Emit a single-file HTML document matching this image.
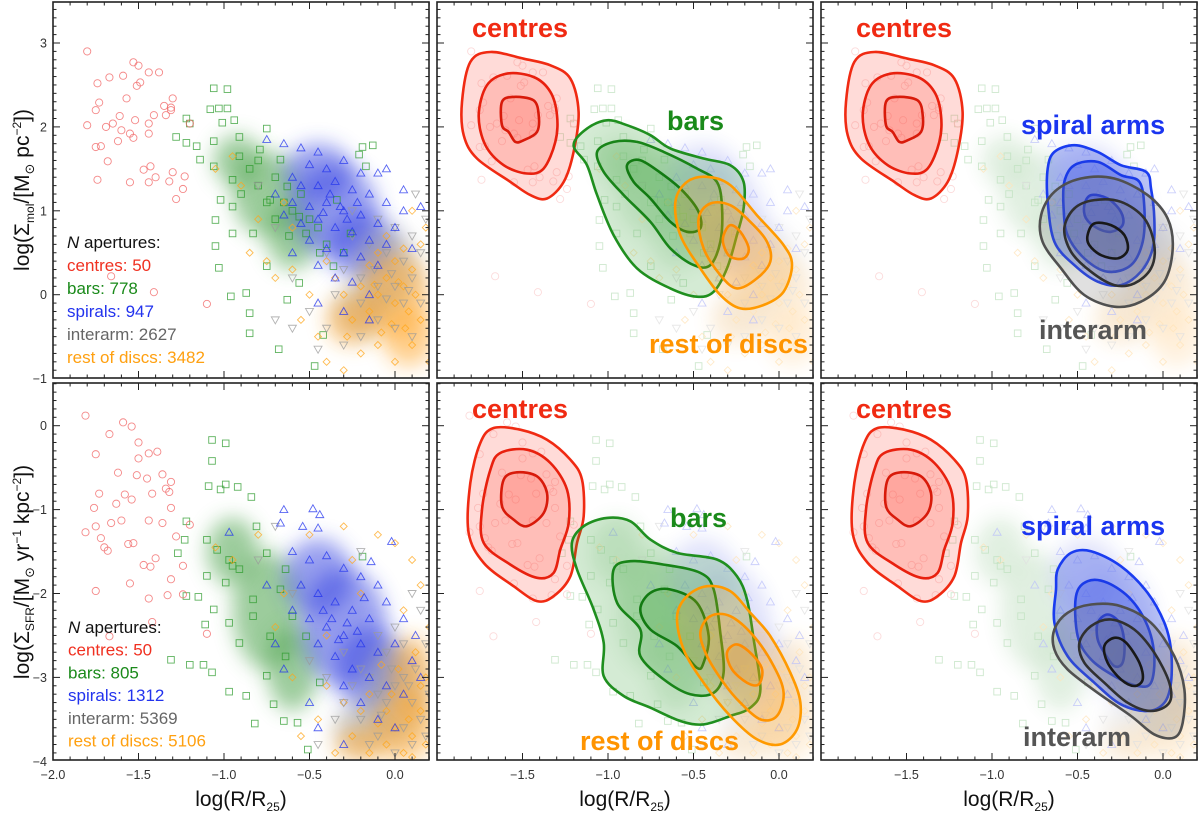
<!DOCTYPE html>
<html><head><meta charset="utf-8">
<style>
html,body{margin:0;padding:0;background:#fff;}
svg{display:block;font-family:"Liberation Sans",sans-serif;}
</style></head>
<body>
<svg id="chart" width="1200" height="819" viewBox="0 0 1200 819" xmlns="http://www.w3.org/2000/svg">
<defs>
<filter id="blur" x="-50%" y="-50%" width="200%" height="200%"><feGaussianBlur stdDeviation="10"/></filter>
<clipPath id="c0"><rect x="53" y="2" width="376" height="376"/></clipPath>
<clipPath id="c1"><rect x="437" y="2" width="376" height="376"/></clipPath>
<clipPath id="c2"><rect x="821" y="2" width="376" height="376"/></clipPath>
<clipPath id="c3"><rect x="53" y="383" width="376" height="377"/></clipPath>
<clipPath id="c4"><rect x="437" y="383" width="376" height="377"/></clipPath>
<clipPath id="c5"><rect x="821" y="383" width="376" height="377"/></clipPath>
</defs>
<g id="root"></g>
</svg>
<script>
// ---------- data: scatter (top row: molecular gas) ----------
const topCentresX=[-1.80,-1.74,-1.67,-1.59,-1.53,-1.50,-1.44,-1.38,-1.73,-1.75,-1.57,-1.80,-1.69,-1.65,-1.61,-1.60,-1.55,-1.53,-1.52,-1.49,-1.51,-1.44,-1.44,-1.41,-1.35,-1.34,-1.31,-1.30,-1.31,-1.20,-1.62,-1.75,-1.72,-1.68,-1.74,-1.55,-1.47,-1.43,-1.40,-1.44,-1.32,-1.30,-1.23,-1.24,-1.28,-1.66,-1.41,-1.10];
const topCentresY=[2.90,2.52,2.59,2.61,2.77,2.73,2.65,2.65,2.29,2.20,2.34,2.02,2.00,2.04,2.13,1.96,1.92,1.87,2.08,2.53,2.49,2.04,1.92,2.14,2.25,2.14,2.20,2.34,2.23,2.04,1.83,1.76,1.77,1.59,1.37,1.34,1.49,1.53,1.40,1.34,1.35,1.46,1.41,1.26,1.14,0.22,0.03,-0.11];
const topBarsX=[-1.06,-0.98,-1.08,-1.03,-0.98,-1.22,-1.20,-0.94,-1.01,-1.28,-1.22,-1.16,-1.06,-0.91,-0.75,-0.13,-0.19,-0.21,-1.14,-1.06,-0.95,-1.02,-1.05,-0.95,-0.83,-1.05,-1.03,-0.96,-0.87,-0.85,-0.85,-0.68,-0.47,-0.42,-0.73,-0.63,-0.56,-0.52,-0.44,-0.36,-0.26,-0.95,-0.75,-0.63,-0.56,-0.34,-0.17,-0.79,-0.67,-0.91,-0.85,-0.80,-0.70,-0.65,-0.60,-0.55,-0.50,-0.45,-0.75,-0.70,-0.62,-0.40,-0.30,-0.80,-0.90];
const topBarsY=[2.46,2.45,2.21,2.22,2.22,2.10,2.04,2.08,2.05,1.88,1.81,1.77,1.83,1.88,1.98,1.78,1.76,1.67,1.61,1.53,1.37,1.13,0.89,1.05,0.73,0.58,0.32,-0.02,0.02,-0.22,-0.46,-0.65,-0.85,-0.48,1.13,1.29,0.93,0.73,0.50,0.34,0.73,0.73,0.34,-0.06,0.14,1.13,1.53,1.73,1.61,1.65,1.50,1.30,1.40,1.10,1.00,1.20,0.90,0.80,1.10,0.90,0.70,0.60,0.50,1.60,1.20];
const topSpiralsX=[-0.75,-0.65,-0.55,-0.45,-0.5,-0.4,-0.3,-0.2,-0.1,-0.05,-0.6,-0.55,-0.45,-0.35,-0.25,-0.15,-0.05,0.05,-0.6,-0.5,-0.4,-0.3,-0.2,-0.1,0.0,-0.55,-0.45,-0.35,-0.25,-0.15,-0.05,0.1,-0.5,-0.4,-0.3,-0.2,-0.1,-0.45,-0.35,-0.25,-0.15,-0.3,-0.15,-0.45,-0.6,-0.7,-0.65,0.05,0.15,-0.38,-0.32,-0.28,-0.42,-0.22];
const topSpiralsY=[1.85,1.8,1.75,1.7,1.55,1.5,1.6,1.45,1.45,1.5,1.4,1.3,1.3,1.35,1.25,1.2,1.1,1.0,1.1,1.05,1.1,1.0,0.95,0.85,0.8,0.85,0.9,0.8,0.75,0.65,0.6,0.55,0.65,0.55,0.5,0.45,0.35,0.35,0.2,0.15,0.0,-0.2,-0.3,-0.1,0.5,1.2,0.95,1.25,1.05,1.2,1.05,0.9,0.98,1.1];
const topInterX=[-0.8,-0.7,-0.6,-0.5,-0.4,-0.3,-0.2,-0.1,0.0,0.1,0.15,0.1,0.0,-0.1,-0.2,-0.3,-0.4,0.05,-0.05,-0.15,-0.25,0.1,0.0,-0.1,0.15,0.05,-0.05,-0.2,-0.35,-0.12,-0.02,0.08,-0.45,-0.6,-0.7,0.18,0.12,-0.25];
const topInterY=[1.3,0.8,0.2,-0.2,-0.4,-0.6,-0.5,-0.3,-0.4,-0.5,-0.1,0.2,0.1,0.1,0.2,0.3,0.5,0.4,0.5,0.6,0.7,0.7,0.8,0.9,0.5,-0.1,-0.05,-0.1,0.0,0.3,0.25,0.05,-0.65,-0.4,-0.3,0.9,1.2,1.0];
const topDiscsX=[-0.95,-1.05,-0.9,-0.8,-0.85,-0.75,-0.7,-0.6,-0.55,-0.5,-0.45,-0.4,-0.3,-0.2,-0.1,0.0,0.1,0.15,0.12,0.1,0.05,0.0,-0.05,-0.1,-0.15,-0.2,-0.25,-0.3,-0.35,0.0,0.05,0.15,0.18,-0.1,-0.15,-0.02,0.08,-0.08,-0.28,0.2,-0.05,0.1,-0.4,-0.6,-0.65,0.02,-0.12,0.06];
const topDiscsY=[1.65,1.5,1.3,0.9,0.5,0.4,0.2,0.3,-0.3,0.0,-0.5,-0.8,-0.9,-0.7,-0.6,-0.8,-0.6,-0.3,0.0,0.3,0.1,-0.1,0.2,0.0,-0.2,0.1,-0.3,0.0,0.2,0.4,0.55,0.6,0.8,0.5,0.35,-0.35,-0.2,-0.45,-0.5,-0.8,0.7,1.0,0.4,0.8,1.1,0.15,0.12,-0.4];
// ---------- data: scatter (bottom row: SFR) ----------
const botCentresX=[-1.81,-1.59,-1.54,-1.67,-1.50,-1.75,-1.50,-1.44,-1.39,-1.62,-1.51,-1.45,-1.36,-1.31,-1.34,-1.32,-1.73,-1.58,-1.54,-1.42,-1.76,-1.63,-1.31,-1.66,-1.60,-1.44,-1.36,-1.81,-1.75,-1.72,-1.70,-1.68,-1.56,-1.53,-1.28,-1.20,-1.40,-1.47,-1.43,-1.24,-1.31,-1.55,-1.75,-1.33,-1.24,-1.44,-1.42,-1.67,-1.10];
const botCentresY=[0.12,0.04,-0.01,-0.10,-0.20,-0.34,-0.39,-0.33,-0.31,-0.56,-0.59,-0.63,-0.58,-0.67,-0.75,-0.79,-0.81,-0.82,-0.88,-0.81,-0.98,-0.93,-0.98,-1.16,-1.13,-1.13,-1.16,-1.27,-1.20,-1.34,-1.45,-1.49,-1.41,-1.40,-1.32,-1.18,-1.58,-1.66,-1.68,-1.67,-1.83,-1.88,-1.97,-2.02,-2.01,-2.06,-2.34,-2.51,-2.48];
const botBarsX=[-1.07,-0.99,-1.07,-1.09,-0.99,-0.92,-0.84,-1.02,-1.22,-1.23,-1.27,-1.10,-1.04,-0.97,-0.91,-1.10,-0.99,-0.95,-0.81,-0.75,-1.22,-1.15,-1.06,-0.97,-1.11,-1.31,-1.20,-1.12,-1.07,-0.97,-0.87,-0.71,-0.82,-0.65,-0.57,-0.51,-0.83,-0.73,-0.64,-0.75,-0.91,-0.83,-0.67,-0.60,-0.52,-0.19,-0.44,-0.64];
const botBarsY=[-0.17,-0.21,-0.42,-0.72,-0.70,-0.73,-0.85,-0.76,-1.14,-1.36,-1.52,-1.36,-1.48,-1.60,-1.71,-1.79,-1.87,-1.67,-1.20,-1.52,-2.03,-2.04,-2.19,-2.35,-2.37,-2.79,-2.85,-2.85,-2.94,-3.17,-3.22,-3.32,-3.55,-3.52,-3.54,-3.86,-2.27,-2.51,-2.75,-2.98,-2.59,-2.07,-1.95,-2.27,-2.51,-1.56,-3.06,-1.71];
const botSpiralsX=[-0.65,-0.48,-0.44,-0.97,-0.67,-0.54,-0.45,-0.02,-0.14,-0.6,-0.5,-0.4,-0.3,-0.2,-0.1,-0.55,-0.45,-0.35,-0.25,-0.15,-0.05,0.05,-0.6,-0.5,-0.4,-0.3,-0.2,-0.1,0.0,0.1,-0.45,-0.35,-0.25,-0.15,-0.05,0.05,0.15,-0.3,-0.2,-0.1,0.0,-0.7,-0.75,-0.65,-0.5,-0.37,-0.28,-0.33,-0.22,-0.42,-0.18,0.12,-0.45,-0.3];
const botSpiralsY=[-1.00,-0.99,-1.06,-1.27,-1.16,-1.20,-1.22,-1.38,-1.62,-1.5,-1.6,-1.55,-1.7,-1.8,-1.9,-1.9,-2.0,-2.1,-2.2,-2.3,-2.1,-2.3,-2.2,-2.3,-2.4,-2.5,-2.6,-2.7,-2.6,-2.8,-2.6,-2.75,-2.9,-3.0,-3.1,-3.2,-3.0,-3.1,-3.3,-3.5,-3.6,-2.6,-1.9,-2.9,-3.3,-2.3,-2.35,-2.55,-2.45,-2.2,-2.05,-2.5,-3.6,-3.8];
const botInterX=[-0.7,-0.8,-0.6,-0.5,-0.4,-0.3,-0.2,-0.1,0.0,0.1,0.15,0.2,0.1,0.05,0.0,-0.05,-0.1,-0.15,-0.2,-0.25,0.12,0.18,0.05,-0.05,-0.1,0.0,0.15,-0.3,-0.35,-0.45,0.05,-0.08,0.08,-0.02,0.18,-0.15,0.1,-0.2];
const botInterY=[-1.2,-1.6,-2.0,-2.8,-3.0,-3.3,-3.5,-3.7,-3.9,-3.8,-3.5,-3.2,-3.3,-3.0,-3.1,-3.3,-3.2,-3.0,-2.9,-3.1,-2.9,-2.6,-2.6,-2.7,-2.5,-2.4,-2.2,-2.7,-3.5,-3.8,-3.6,-3.45,-3.1,-2.9,-3.7,-3.8,-2.0,-1.5];
const botDiscsX=[-1.05,-0.95,-0.8,-0.5,-0.3,-0.1,0.0,0.15,0.1,-0.25,-0.6,-0.55,-0.45,-0.35,-0.25,-0.15,-0.05,0.05,0.1,0.15,0.18,0.12,0.2,0.05,-0.05,0.0,-0.1,-0.2,0.08,-0.02,-0.15,0.15,-0.3,-0.4,0.02,-0.08,-0.65,-0.7,0.1,0.18,-0.4,-0.2];
const botDiscsY=[-1.45,-1.6,-1.3,-1.3,-1.2,-1.3,-1.4,-1.9,-1.6,-1.6,-3.0,-3.7,-3.5,-3.9,-3.7,-3.9,-3.8,-3.9,-3.7,-3.4,-3.0,-2.7,-2.4,-2.2,-3.4,-3.6,-3.55,-3.4,-3.5,-3.2,-3.2,-3.1,-3.3,-3.1,-2.9,-2.85,-2.0,-2.4,-3.95,-3.8,-2.5,-2.0];
// density clouds: class index (0 bars,1 spirals,2 interarm,3 discs), centre x, centre y, sigma x, sigma y
const topCloudC=[0,0,0,1,1,1,2,2,3,3,3];
const topCloudX=[-0.75,-0.92,-0.6,-0.35,-0.2,-0.45,-0.05,-0.2,0.0,0.08,-0.25];
const topCloudY=[1.2,1.6,0.7,1.0,0.6,1.45,0.3,-0.2,0.0,-0.5,-0.3];
const topCloudSX=[0.2,0.14,0.15,0.25,0.2,0.2,0.18,0.15,0.2,0.15,0.15];
const topCloudSY=[0.5,0.3,0.4,0.55,0.4,0.35,0.5,0.3,0.5,0.35,0.3];
const botCloudC=[0,0,0,1,1,1,2,2,3,3,3];
const botCloudX=[-0.75,-0.95,-0.6,-0.3,-0.15,-0.45,0.0,-0.2,0.05,0.1,-0.2];
const botCloudY=[-2.2,-1.5,-2.9,-2.4,-2.9,-1.8,-3.2,-3.6,-3.6,-3.0,-3.8];
const botCloudSX=[0.2,0.15,0.15,0.25,0.2,0.2,0.18,0.15,0.18,0.12,0.15];
const botCloudSY=[0.7,0.4,0.5,0.7,0.5,0.45,0.6,0.3,0.4,0.5,0.2];
// ---------- data: contours (top row) ----------
const tRed1X=[-1.854,-1.805,-1.688,-1.493,-1.337,-1.220,-1.172,-1.201,-1.259,-1.357,-1.454,-1.571,-1.766,-1.844];
const tRed1Y=[2.298,2.774,2.893,2.813,2.734,2.575,2.179,1.702,1.345,1.147,1.187,1.345,1.623,1.901];
const tRed2X=[-1.756,-1.708,-1.591,-1.435,-1.337,-1.298,-1.308,-1.376,-1.474,-1.610,-1.717];
const tRed2Y=[2.139,2.496,2.635,2.595,2.417,2.139,1.821,1.504,1.444,1.544,1.782];
const tRed3X=[-1.620,-1.552,-1.435,-1.405,-1.415,-1.493,-1.542,-1.581,-1.620];
const tRed3Y=[2.298,2.357,2.317,2.139,1.940,1.841,1.821,1.940,2.020];
const tGrn1X=[-1.201,-1.123,-1.006,-0.889,-0.752,-0.635,-0.441,-0.285,-0.207,-0.207,-0.246,-0.304,-0.382,-0.480,-0.635,-0.830,-0.967,-1.064,-1.123];
const tGrn1Y=[1.782,1.980,2.079,2.020,1.901,1.742,1.623,1.544,1.345,1.028,0.710,0.313,0.036,-0.024,0.075,0.313,0.710,1.187,1.544];
const tGrn2X=[-1.064,-0.967,-0.830,-0.674,-0.480,-0.363,-0.333,-0.343,-0.402,-0.499,-0.635,-0.752,-0.908,-1.025];
const tGrn2Y=[1.702,1.821,1.821,1.702,1.504,1.345,1.028,0.631,0.353,0.353,0.552,0.869,1.187,1.464];
const tGrn3X=[-0.889,-0.811,-0.674,-0.558,-0.470,-0.460,-0.538,-0.635,-0.752,-0.850];
const tGrn3Y=[1.544,1.603,1.425,1.226,0.988,0.790,0.750,0.869,1.147,1.345];
const tOra1X=[-0.606,-0.538,-0.421,-0.285,-0.129,0.027,0.076,0.027,-0.090,-0.226,-0.343,-0.460,-0.577];
const tOra1Y=[1.107,1.345,1.405,1.306,0.948,0.591,0.353,0.036,-0.123,-0.163,-0.004,0.313,0.710];
const tOra2X=[-0.470,-0.402,-0.285,-0.168,-0.070,-0.051,-0.129,-0.246,-0.343,-0.441];
const tOra2Y=[0.909,1.087,1.067,0.869,0.631,0.393,0.194,0.075,0.234,0.552];
const tOra3X=[-0.324,-0.285,-0.226,-0.177,-0.207,-0.285,-0.324];
const tOra3Y=[0.710,0.829,0.750,0.552,0.433,0.453,0.591];
const tBlu1X=[-0.674,-0.635,-0.519,-0.382,-0.246,-0.099,-0.070,-0.051,-0.060,-0.129,-0.246,-0.382,-0.519,-0.635,-0.674];
const tBlu1Y=[1.504,1.702,1.782,1.702,1.544,1.464,1.266,0.909,0.552,0.274,0.115,0.155,0.353,0.631,1.107];
const tBlu2X=[-0.577,-0.519,-0.382,-0.246,-0.138,-0.109,-0.119,-0.187,-0.324,-0.460,-0.558,-0.581];
const tBlu2Y=[1.345,1.544,1.583,1.425,1.345,1.028,0.631,0.353,0.274,0.433,0.710,1.028];
const tBlu3X=[-0.460,-0.421,-0.324,-0.246,-0.236,-0.304,-0.382,-0.450];
const tBlu3Y=[1.067,1.187,1.147,0.988,0.829,0.750,0.790,0.909];
const tGry1X=[-0.713,-0.635,-0.480,-0.285,-0.090,0.027,0.057,0.008,-0.129,-0.285,-0.460,-0.596,-0.704];
const tGry1Y=[0.948,1.226,1.385,1.385,1.187,0.909,0.552,0.155,-0.083,-0.143,-0.004,0.313,0.631];
const tGry2X=[-0.577,-0.519,-0.402,-0.246,-0.109,-0.051,-0.070,-0.168,-0.285,-0.421,-0.538];
const tGry2Y=[0.790,1.028,1.127,1.107,0.909,0.591,0.313,0.135,0.115,0.274,0.512];
const tGry3X=[-0.441,-0.402,-0.304,-0.226,-0.207,-0.265,-0.363,-0.431];
const tGry3Y=[0.710,0.849,0.829,0.710,0.532,0.433,0.472,0.591];
// ---------- data: contours (bottom row) ----------
const bRed1X=[-1.805,-1.747,-1.669,-1.513,-1.357,-1.220,-1.152,-1.142,-1.181,-1.220,-1.318,-1.415,-1.552,-1.727,-1.815];
const bRed1Y=[-0.683,-0.206,-0.028,-0.048,-0.167,-0.405,-0.643,-1.079,-1.397,-1.794,-2.032,-2.091,-1.913,-1.635,-1.278];
const bRed2X=[-1.688,-1.630,-1.474,-1.337,-1.240,-1.230,-1.279,-1.318,-1.415,-1.571,-1.727,-1.737];
const bRed2Y=[-0.524,-0.325,-0.286,-0.444,-0.762,-1.159,-1.476,-1.754,-1.813,-1.655,-1.397,-1.000];
const bRed3X=[-1.610,-1.532,-1.415,-1.357,-1.376,-1.474,-1.552,-1.620];
const bRed3Y=[-0.643,-0.556,-0.603,-0.802,-1.040,-1.198,-1.119,-0.960];
const bGrn1X=[-1.211,-1.142,-1.006,-0.869,-0.752,-0.596,-0.363,-0.246,-0.187,-0.148,-0.109,-0.168,-0.285,-0.441,-0.577,-0.752,-0.908,-1.025,-1.025,-1.084,-1.181];
const bGrn1Y=[-1.397,-1.198,-1.099,-1.139,-1.357,-1.516,-1.595,-1.794,-2.071,-2.548,-3.143,-3.361,-3.460,-3.560,-3.520,-3.361,-3.222,-2.984,-2.587,-2.190,-1.714];
const bGrn2X=[-0.967,-0.869,-0.674,-0.460,-0.382,-0.343,-0.324,-0.382,-0.519,-0.674,-0.811,-0.811,-0.947];
const bGrn2Y=[-1.714,-1.615,-1.655,-1.754,-1.952,-2.468,-2.944,-3.183,-3.202,-3.024,-2.746,-2.429,-2.111];
const bGrn3X=[-0.811,-0.752,-0.635,-0.480,-0.411,-0.441,-0.480,-0.596,-0.752];
const bGrn3Y=[-2.190,-1.992,-1.952,-2.111,-2.508,-2.825,-2.885,-2.627,-2.429];
const bOra1X=[-0.596,-0.538,-0.421,-0.285,-0.168,-0.051,0.066,0.125,0.105,0.008,-0.129,-0.285,-0.441,-0.558];
const bOra1Y=[-2.270,-2.032,-1.913,-1.972,-2.230,-2.508,-2.944,-3.302,-3.619,-3.798,-3.738,-3.460,-3.063,-2.667];
const bOra2X=[-0.460,-0.402,-0.285,-0.148,-0.031,0.027,-0.012,-0.109,-0.226,-0.324,-0.421];
const bOra2Y=[-2.468,-2.270,-2.270,-2.508,-2.865,-3.183,-3.460,-3.500,-3.302,-3.063,-2.746];
const bOra3X=[-0.304,-0.246,-0.158,-0.099,-0.119,-0.187,-0.275];
const bOra3Y=[-2.706,-2.607,-2.726,-2.905,-3.083,-3.063,-2.905];
const bBlu1X=[-0.616,-0.538,-0.421,-0.246,-0.090,0.008,0.047,0.047,0.008,-0.090,-0.246,-0.402,-0.558,-0.635,-0.626];
const bBlu1Y=[-1.714,-1.516,-1.496,-1.675,-1.992,-2.349,-2.667,-3.063,-3.302,-3.401,-3.321,-3.063,-2.746,-2.349,-1.952];
const bBlu2X=[-0.509,-0.441,-0.324,-0.187,-0.090,-0.051,-0.070,-0.148,-0.285,-0.421,-0.499];
const bBlu2Y=[-2.032,-1.853,-1.873,-2.071,-2.389,-2.746,-3.063,-3.103,-2.984,-2.786,-2.508];
const bBlu3X=[-0.382,-0.324,-0.255,-0.226,-0.236,-0.285,-0.343,-0.382];
const bBlu3Y=[-2.349,-2.250,-2.349,-2.587,-2.825,-2.865,-2.706,-2.548];
const bGry1X=[-0.635,-0.558,-0.421,-0.246,-0.070,0.066,0.125,0.115,0.066,-0.051,-0.187,-0.382,-0.558,-0.635];
const bGry1Y=[-2.429,-2.230,-2.131,-2.151,-2.349,-2.746,-3.143,-3.540,-3.718,-3.679,-3.460,-3.183,-2.905,-2.667];
const bGry2X=[-0.489,-0.421,-0.304,-0.168,-0.051,0.037,0.037,-0.070,-0.207,-0.343,-0.460];
const bGry2Y=[-2.587,-2.389,-2.310,-2.429,-2.706,-3.063,-3.302,-3.401,-3.302,-3.063,-2.825];
const bGry3X=[-0.343,-0.285,-0.216,-0.138,-0.119,-0.168,-0.246,-0.324];
const bGry3Y=[-2.627,-2.528,-2.587,-2.825,-3.024,-3.103,-3.024,-2.825];
// ticks
const xTickVals=[-2.0,-1.5,-1.0,-0.5,0.0];
const xTickLabels=["\u22122.0","\u22121.5","\u22121.0","\u22120.5","0.0"];
const topYTickVals=[3,2,1,0,-1];
const topYTickLabels=["3","2","1","0","\u22121"];
const botYTickVals=[0,-1,-2,-3,-4];
const botYTickLabels=["0","\u22121","\u22122","\u22123","\u22124"];

// ---------- rendering ----------
const NS="http://www.w3.org/2000/svg";
const root=document.getElementById('root');
const colX=[53,437,821], PW=376;
const rows=[{top:2,bot:378,y0:43,v0:3},{top:383,bot:760,y0:425.7,v0:0}];
const SY=83.9, SX=171;
function xs(c,v){return colX[c]+(v+2)*SX;}
function ys(r,v){return rows[r].y0+(rows[r].v0-v)*SY;}
function mk(tag,attrs,parent){const e=document.createElementNS(NS,tag);for(const k in attrs)e.setAttribute(k,attrs[k]);(parent||root).appendChild(e);return e;}
function smooth(pts){
  const n=pts.length;let d=`M${pts[0][0].toFixed(1)},${pts[0][1].toFixed(1)}`;
  for(let i=0;i<n;i++){const p0=pts[(i-1+n)%n],p1=pts[i],p2=pts[(i+1)%n],p3=pts[(i+2)%n];
    const c1=[p1[0]+(p2[0]-p0[0])/6,p1[1]+(p2[1]-p0[1])/6],c2=[p2[0]-(p3[0]-p1[0])/6,p2[1]-(p3[1]-p1[1])/6];
    d+=`C${c1[0].toFixed(1)},${c1[1].toFixed(1)} ${c2[0].toFixed(1)},${c2[1].toFixed(1)} ${p2[0].toFixed(1)},${p2[1].toFixed(1)}`;}
  return d+'Z';
}
const classes=[
 {key:'bars',shape:'square',col:'#2a9a2a'},
 {key:'discs',shape:'diamond',col:'#ffa51a'},
 {key:'inter',shape:'down',col:'#9a9a9a'},
 {key:'spirals',shape:'up',col:'#2233ee'},
 {key:'centres',shape:'circle',col:'#f06060'}];
const scatterData=[
 {bars:[topBarsX,topBarsY],discs:[topDiscsX,topDiscsY],inter:[topInterX,topInterY],spirals:[topSpiralsX,topSpiralsY],centres:[topCentresX,topCentresY]},
 {bars:[botBarsX,botBarsY],discs:[botDiscsX,botDiscsY],inter:[botInterX,botInterY],spirals:[botSpiralsX,botSpiralsY],centres:[botCentresX,botCentresY]}];
const cloudData=[[topCloudC,topCloudX,topCloudY,topCloudSX,topCloudSY],[botCloudC,botCloudX,botCloudY,botCloudSX,botCloudSY]];
const cloudCols=['#3a9a3a','#3040e0','#9a9a9a','#ffa01a'];

function drawScatter(c,r,fade){
  const g=mk('g',{'clip-path':`url(#c${r*3+c})`,opacity:fade});
  
  
  const cd=cloudData[r];
  for(let i=0;i<cd[1].length;i++){
    const e=mk('ellipse',{cx:xs(c,cd[1][i]),cy:ys(r,cd[2][i]),rx:cd[3][i]*SX,ry:cd[4][i]*SY,fill:cloudCols[cd[0][i]],opacity:0.5,filter:'url(#blur)'},g);
    
    
  }
  classes.forEach(cl=>{
    const [X,Y]=scatterData[r][cl.key];
    for(let i=0;i<X.length;i++){
      const px=xs(c,X[i]),py=ys(r,Y[i]);let e;
      const st={fill:'none',stroke:cl.col,'stroke-width':0.9,opacity:cl.key==='centres'?0.75:0.75};
      if(cl.shape==='circle')e=mk('circle',Object.assign({cx:px,cy:py,r:3.6},st),g);
      else if(cl.shape==='square')e=mk('rect',Object.assign({x:px-3.3,y:py-3.3,width:6.6,height:6.6},st),g);
      else if(cl.shape==='diamond')e=mk('path',Object.assign({d:`M${px},${py-3.5}L${px+3.5},${py}L${px},${py+3.5}L${px-3.5},${py}Z`},st),g);
      else if(cl.shape==='up')e=mk('path',Object.assign({d:`M${px},${py-4}L${px+4},${py+3}L${px-4},${py+3}Z`},st),g);
      else e=mk('path',Object.assign({d:`M${px},${py+4}L${px+4},${py-3}L${px-4},${py-3}Z`},st),g);
      
      
    }
  });
}
function drawContours(c,r,sets,fill,strokes,fo,name){
  const g=mk('g',{'clip-path':`url(#c${r*3+c})`});
  
  
  sets.forEach((s,i)=>{
    const pts=s[0].map((v,j)=>[xs(c,v),ys(r,s[1][j])]);
    const p=mk('path',{d:smooth(pts),fill:fill,'fill-opacity':fo,stroke:strokes[i],'stroke-width':2.6,'stroke-linejoin':'round'},g);
    
    
  });
}
function label(x,y,t,col,name,size,weight){
  const e=mk('text',{x:x,y:y,fill:col,'font-size':size,'font-weight':weight||'bold'});
  e.textContent=t;
  
  
  return e;
}
function frame(c,r){
  const R=rows[r],x0=colX[c],x1=x0+PW;
  const g=mk('g',{stroke:'#222','stroke-width':1});
  
  
  for(let v=-2;v<=0.2001;v+=0.1){
    const major=Math.abs(v*2-Math.round(v*2))<1e-6, L=major?7:3.5, px=xs(c,v);
    mk('line',{x1:px,y1:R.bot,x2:px,y2:R.bot-L},g);
    mk('line',{x1:px,y1:R.top,x2:px,y2:R.top+L},g);
  }
  const vmin=rows[r].v0-(R.bot-R.y0)/SY, vmax=rows[r].v0+(R.y0-R.top)/SY;
  for(let k=Math.ceil(vmin*10);k<=Math.floor(vmax*10);k++){
    const v=k/10, major=k%10===0, L=major?7:3.5, py=ys(r,v);
    mk('line',{x1:x0,y1:py,x2:x0+L,y2:py},g);
    mk('line',{x1:x1,y1:py,x2:x1-L,y2:py},g);
  }
  const b=mk('rect',{x:x0,y:R.top,width:PW,height:R.bot-R.top,fill:'none',stroke:'#222','stroke-width':1.6});
  
  
}

const redF='#ff4a3a', grnF='#2a9a2a', oraF='#ff9a10', bluF='#2240e0', gryF='#707070';
const redS=['#f02a12','#e8200e','#d81a0a'], grnS=['#1f8f1f','#188418','#127a12'], oraS=['#ff9a00','#ff9400','#ff8c00'];
const bluS=['#1a3cf0','#1a3ae8','#1a35e0'], gryS=['#505050','#303030','#181818'];
const contourSets=[
 {red:[[tRed1X,tRed1Y],[tRed2X,tRed2Y],[tRed3X,tRed3Y]],grn:[[tGrn1X,tGrn1Y],[tGrn2X,tGrn2Y],[tGrn3X,tGrn3Y]],ora:[[tOra1X,tOra1Y],[tOra2X,tOra2Y],[tOra3X,tOra3Y]],blu:[[tBlu1X,tBlu1Y],[tBlu2X,tBlu2Y],[tBlu3X,tBlu3Y]],gry:[[tGry1X,tGry1Y],[tGry2X,tGry2Y],[tGry3X,tGry3Y]]},
 {red:[[bRed1X,bRed1Y],[bRed2X,bRed2Y],[bRed3X,bRed3Y]],grn:[[bGrn1X,bGrn1Y],[bGrn2X,bGrn2Y],[bGrn3X,bGrn3Y]],ora:[[bOra1X,bOra1Y],[bOra2X,bOra2Y],[bOra3X,bOra3Y]],blu:[[bBlu1X,bBlu1Y],[bBlu2X,bBlu2Y],[bBlu3X,bBlu3Y]],gry:[[bGry1X,bGry1Y],[bGry2X,bGry2Y],[bGry3X,bGry3Y]]}];

for(let r=0;r<2;r++){
  drawScatter(0,r,1);
  drawScatter(1,r,0.3);
  drawScatter(2,r,0.3);
  const cs=contourSets[r];
  drawContours(1,r,cs.red,redF,redS,0.2,'centres');
  drawContours(1,r,cs.grn,grnF,grnS,0.2,'bars');
  drawContours(1,r,cs.ora,oraF,oraS,0.2,'rest-of-discs');
  drawContours(2,r,cs.red,redF,redS,0.2,'centres');
  drawContours(2,r,cs.blu,bluF,bluS,0.3,'spiral-arms');
  drawContours(2,r,cs.gry,gryF,gryS,0.22,'interarm');
  for(let c=0;c<3;c++)frame(c,r);
}
// tick labels
xTickVals.forEach((v,i)=>{
  for(let c=0;c<3;c++){
    if(c>0&&i===0)continue;
    const t=mk('text',{x:xs(c,v),y:779,'text-anchor':'middle','font-size':12.5,fill:'#333'});
    t.textContent=xTickLabels[i];
    
    
  }
});
topYTickVals.forEach((v,i)=>{
  const t=mk('text',{x:47,y:ys(0,v)+4.5,'text-anchor':'end','font-size':12.5,fill:'#333'});
  t.textContent=topYTickLabels[i];
  
  
});
botYTickVals.forEach((v,i)=>{
  const t=mk('text',{x:47,y:ys(1,v)+4.5,'text-anchor':'end','font-size':12.5,fill:'#333'});
  t.textContent=botYTickLabels[i];
  
  
});
// region labels
label(472,37,'centres','#f02a12','label-centres',27);
label(667,130,'bars','#1a8a1a','label-bars',27);
label(649,353,'rest of discs','#ff9400','label-rest-of-discs',27);
label(856,37,'centres','#f02a12','label-centres',27);
label(1021,134,'spiral arms','#1a35f0','label-spiral-arms',27);
label(1039,339,'interarm','#555','label-interarm',27);
label(472,418,'centres','#f02a12','label-centres',27);
label(670,527,'bars','#1a8a1a','label-bars',27);
label(580,750,'rest of discs','#ff9400','label-rest-of-discs',27);
label(856,418,'centres','#f02a12','label-centres',27);
label(1021,535,'spiral arms','#1a35f0','label-spiral-arms',27);
label(1023,746,'interarm','#555','label-interarm',27);
// legends
function legend(x,base,gap,lines){
  const g=mk('g',{});
  
  
  lines.forEach((l,i)=>{
    const t=mk('text',{x:x,y:base+i*gap,'font-size':17,fill:l[1]},g);
    if(i===0){const s=mk('tspan',{'font-style':'italic'},t);s.textContent='N';const s2=mk('tspan',{},t);s2.textContent=' apertures:';}
    else t.textContent=l[0];
    
    
  });
}
legend(67,248,23,[['N apertures:','#111'],['centres: 50','#f03020'],['bars: 778','#1a8a1a'],['spirals: 947','#2233ee'],['interarm: 2627','#666'],['rest of discs: 3482','#ffa010']]);
legend(68,633,22.7,[['N apertures:','#111'],['centres: 50','#f03020'],['bars: 805','#1a8a1a'],['spirals: 1312','#2233ee'],['interarm: 5369','#666'],['rest of discs: 5106','#ffa010']]);
</script>
<div style="position:absolute;left:0;top:0;width:1200px;height:819px;pointer-events:none;">
  <div style="position:absolute;left:24px;top:190px;transform:translate(-50%,-50%) rotate(-90deg);white-space:nowrap;font:21px 'Liberation Sans','DejaVu Sans',sans-serif;color:#111;">log(Σ<sub style="font-size:12px">mol</sub>/[M<sub style="font-size:13px">⊙</sub> pc<sup style="font-size:12px">−2</sup>])</div>
  <div style="position:absolute;left:24px;top:572px;transform:translate(-50%,-50%) rotate(-90deg);white-space:nowrap;font:21px 'Liberation Sans','DejaVu Sans',sans-serif;color:#111;">log(Σ<sub style="font-size:12px">SFR</sub>/[M<sub style="font-size:13px">⊙</sub> yr<sup style="font-size:12px">−1</sup> kpc<sup style="font-size:12px">−2</sup>])</div>
  <div style="position:absolute;left:241px;top:788px;transform:translateX(-50%);white-space:nowrap;font:21px 'Liberation Sans',sans-serif;color:#111;">log(R/R<sub style="font-size:12px">25</sub>)</div>
  <div style="position:absolute;left:625px;top:788px;transform:translateX(-50%);white-space:nowrap;font:21px 'Liberation Sans',sans-serif;color:#111;">log(R/R<sub style="font-size:12px">25</sub>)</div>
  <div style="position:absolute;left:1009px;top:788px;transform:translateX(-50%);white-space:nowrap;font:21px 'Liberation Sans',sans-serif;color:#111;">log(R/R<sub style="font-size:12px">25</sub>)</div>
</div>
</body></html>
